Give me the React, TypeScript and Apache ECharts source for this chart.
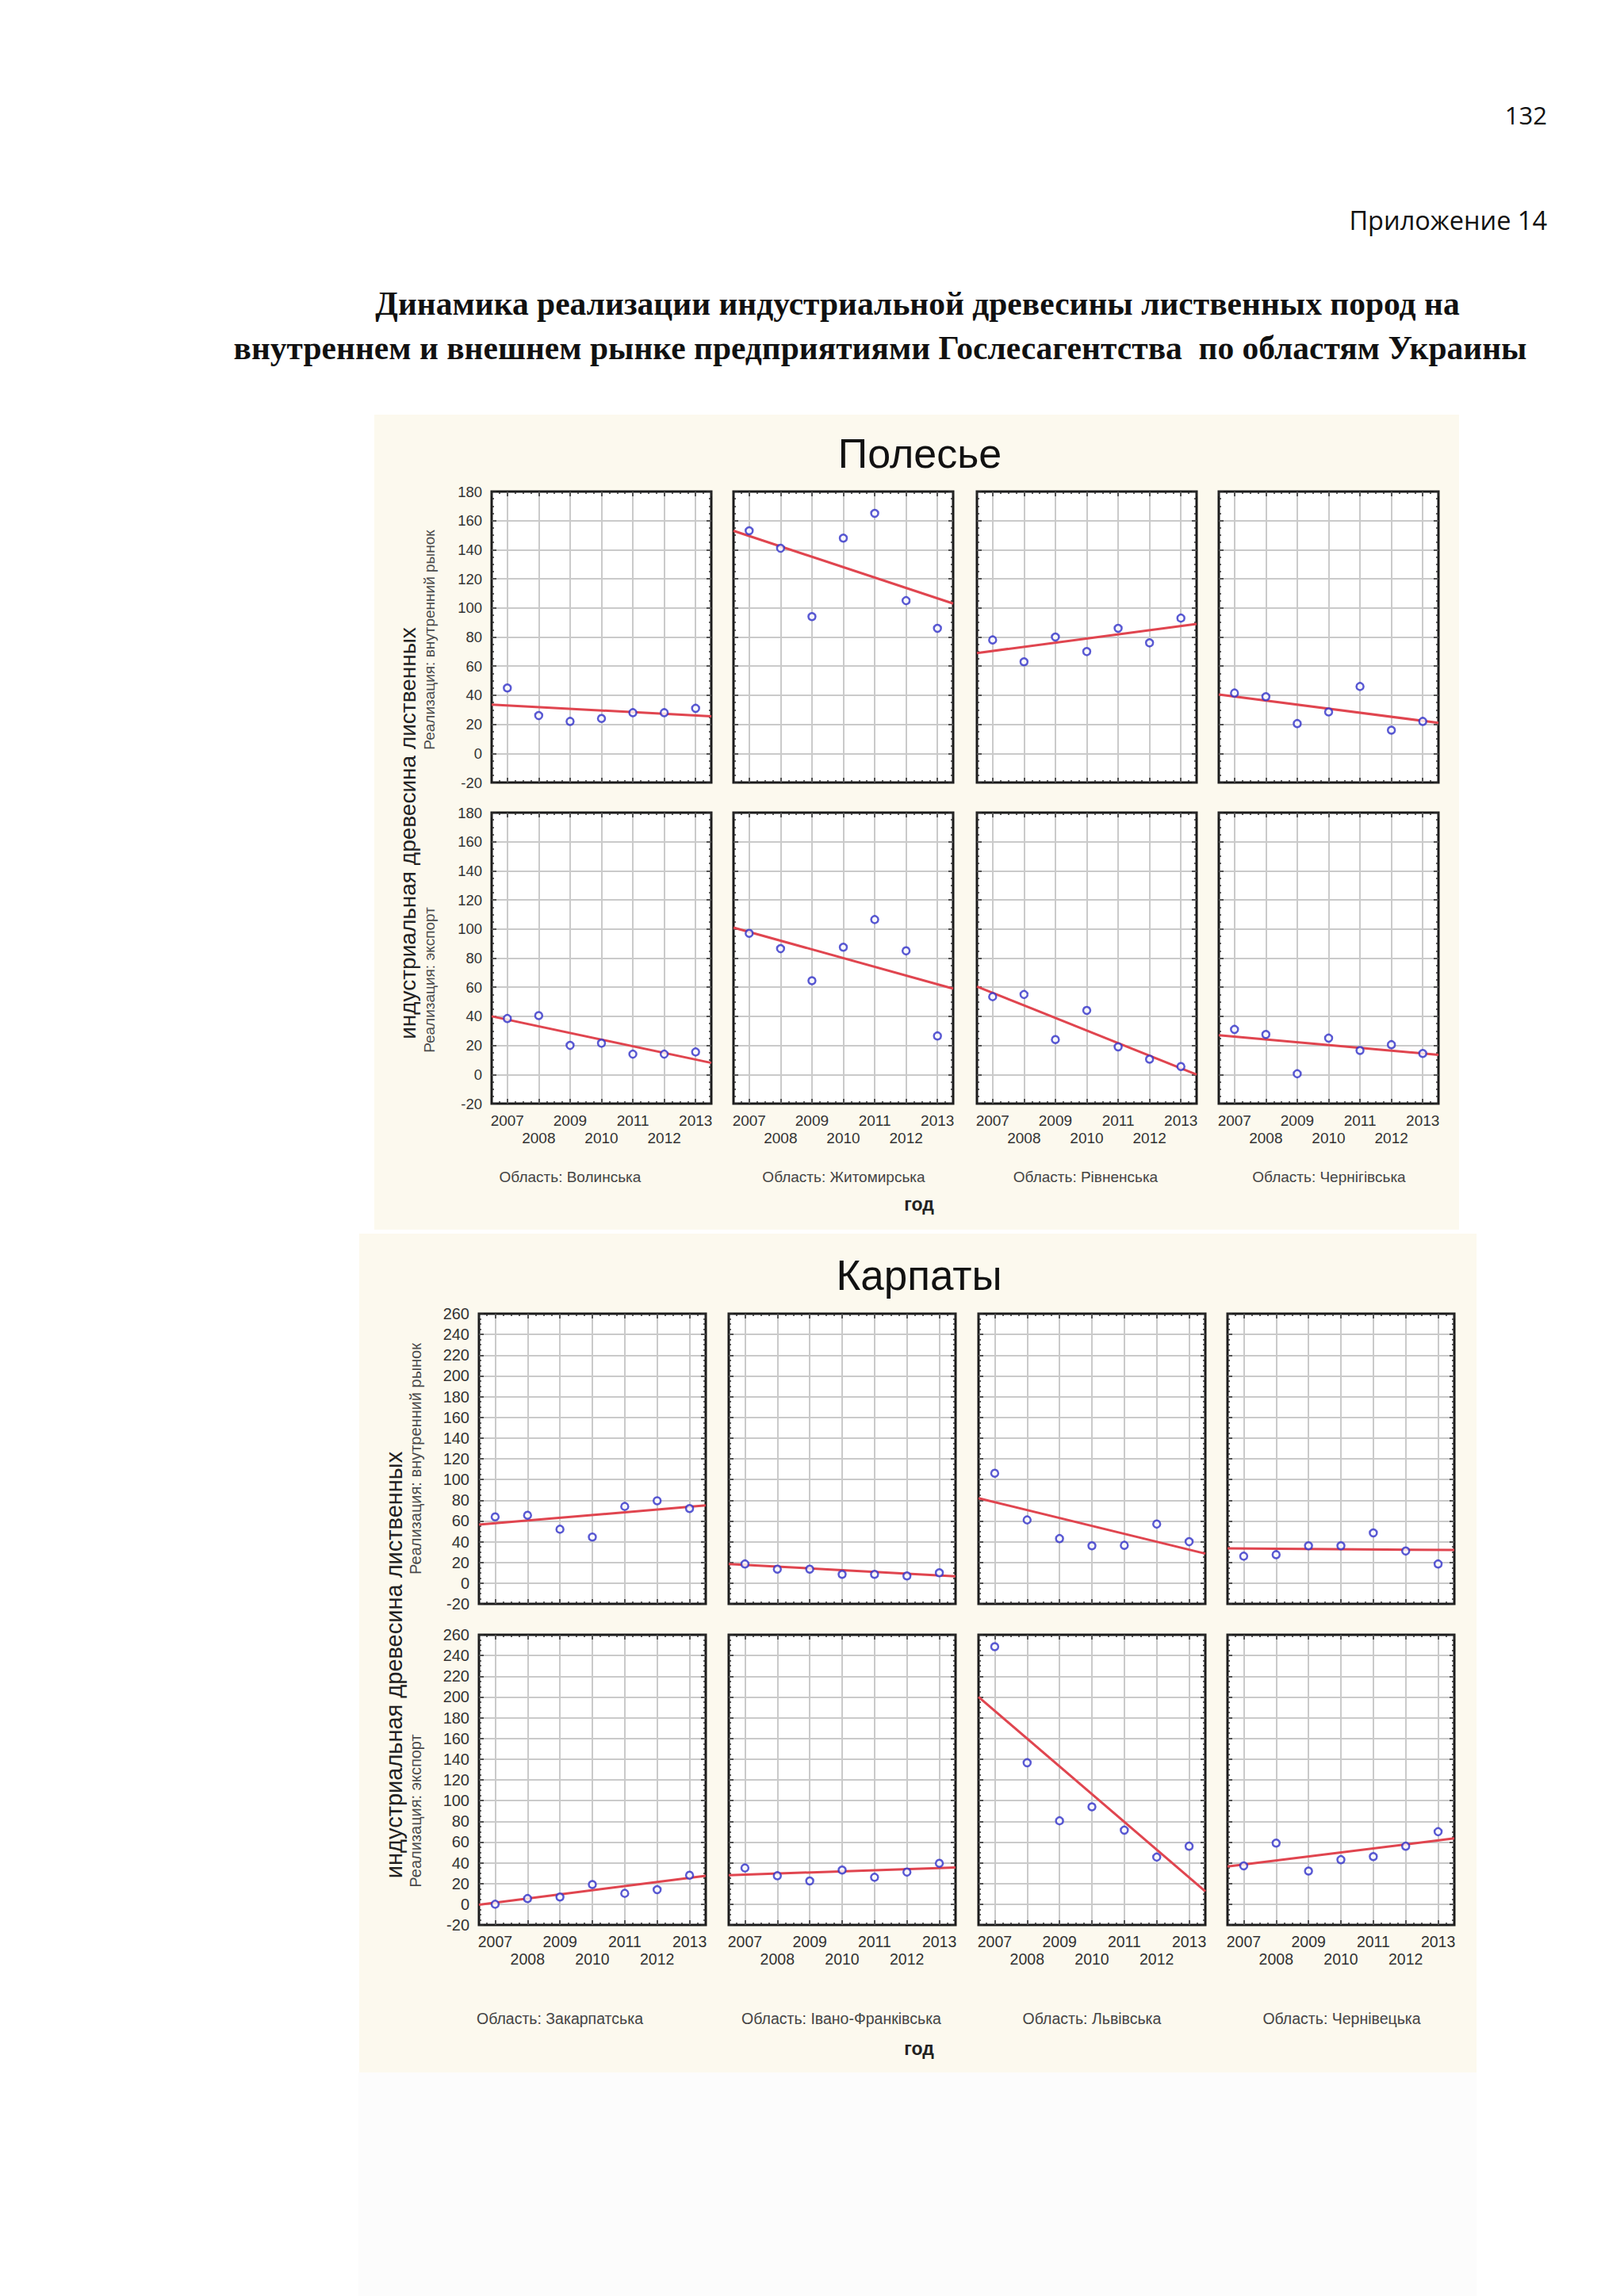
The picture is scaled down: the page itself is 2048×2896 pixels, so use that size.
import React, { useEffect, useRef } from 'react';
import * as echarts from 'echarts';

// ---------- DATA ----------
const years = [2007, 2008, 2009, 2010, 2011, 2012, 2013];
const trendX = [2006.5, 2013.5];

// Полесье
const polRegions = ['Волинська', 'Житомирська', 'Рівненська', 'Чернігівська'];
const polDomestic = [
  [45, 26, 22, 24, 28, 28, 31],
  [153, 141, 94, 148, 165, 105, 86],
  [78, 63, 80, 70, 86, 76, 93],
  [41.5, 39, 20.5, 28.5, 46, 16, 22],
];
const polDomesticTrend = [[33.5, 25.5], [153, 103], [69, 89], [40.5, 21]];
const polExport = [
  [38.5, 40.5, 20, 21.5, 14, 14, 15.5],
  [97, 86.5, 64.5, 87.5, 106.5, 85, 26.5],
  [53.5, 55, 24, 44, 19, 10.5, 5.5],
  [31, 27.5, 0.5, 25, 16.5, 20.5, 14.5],
];
const polExportTrend = [[40, 8], [101, 59], [60.5, 0], [27, 13.5]];

// Карпаты
const karRegions = ['Закарпатська', 'Івано-Франківська', 'Львівська', 'Чернівецька'];
const karDomestic = [
  [64, 65.5, 52, 44.5, 74, 79.5, 72],
  [18.5, 13.5, 13.5, 8.5, 8.5, 7, 10],
  [106, 61, 43, 36, 36.5, 57, 40],
  [26, 27.5, 36, 36, 48.5, 31, 18.5],
];
const karDomesticTrend = [[56.5, 75], [18.5, 6.5], [82, 28.5], [33.5, 32]];
const karExport = [
  [0, 5.5, 7, 19, 10.5, 14, 28],
  [35, 27.5, 22.5, 33, 26, 31, 39.5],
  [248.5, 136.5, 80.5, 94, 71.5, 45.5, 56],
  [37, 59, 32, 43, 46, 56, 70],
];
const karExportTrend = [[-0.5, 27.5], [28, 35.5], [200, 12.5], [36.5, 63.5]];

const yMin = -20;
const yStep = 20;
const polYMax = 180;
const karYMax = 260;

const pageNumber = '132';
const appendixLabel = 'Приложение 14';
const titleLine1 = 'Динамика реализации индустриальной древесины лиственных пород на';
const titleLine2 = 'внутреннем и внешнем рынке предприятиями Гослесагентства  по областям Украины';
const bigYLabel = 'индустриальная древесина лиственных';
const rowLabels = ['Реализация: внутренний рынок', 'Реализация: экспорт'];
const xName = 'год';

// ---------- LAYOUT / STYLE ----------
const SANS = '"Liberation Sans", Arial, sans-serif';
const panels = [
  {
    title: 'Полесье',
    regions: polRegions,
    rows: [
      { values: polDomestic, trend: polDomesticTrend },
      { values: polExport, trend: polExportTrend },
    ],
    yMax: polYMax,
    L: {
      bg: [472, 523, 1368, 1028],
      titleXY: [1160, 572], titleSize: 52,
      colLefts: [620, 925, 1232, 1537], colW: 277,
      rowTops: [620, 1025], rowH: 367,
      big: [514, 1051], bigSize: 28,
      rowLab: [541, [807, 1236]], rowLabSize: 19,
      regY: 1484, regX: [719, 1064, 1369, 1676], regSize: 19,
      god: [1159, 1519],
      tickSize: 18.5, yearSize: 19,
    },
  },
  {
    title: 'Карпаты',
    regions: karRegions,
    rows: [
      { values: karDomestic, trend: karDomesticTrend },
      { values: karExport, trend: karExportTrend },
    ],
    yMax: karYMax,
    L: {
      bg: [453, 1556, 1409, 1058],
      titleXY: [1159, 1608], titleSize: 53,
      colLefts: [604, 919, 1234, 1548], colW: 286,
      rowTops: [1657, 2062], rowH: 366,
      big: [497, 2100], bigSize: 29,
      rowLab: [524, [1840, 2284]], rowLabSize: 20,
      regY: 2546, regX: [706, 1061, 1377, 1692], regSize: 19.5,
      god: [1159, 2584],
      tickSize: 20, yearSize: 19.5,
    },
  },
];

const GRID_LINE = '#cacaca';
const FRAME = '#1a1a1a';
const TICK = { color: '#2a2a2a', width: 1.5 };
const NO_LINE = { show: false, onZero: false };

function text(x: number, y: number, t: string, o: any = {}) {
  return {
    type: 'text',
    x,
    y,
    rotation: o.rotation || 0,
    z: 10,
    silent: true,
    style: {
      text: t,
      fill: o.fill || '#222',
      fontSize: o.fontSize || 20,
      fontFamily: o.fontFamily || SANS,
      fontWeight: o.fontWeight || 'normal',
      textAlign: o.align || 'center',
      textVerticalAlign: 'middle',
    },
  };
}

function buildOption() {
  const grid: any[] = [];
  const xAxis: any[] = [];
  const yAxis: any[] = [];
  const series: any[] = [];
  const graphic: any[] = [];

  graphic.push({ type: 'rect', z: -10, silent: true, shape: { x: 452, y: 2614, width: 1410, height: 282 }, style: { fill: '#fcfcfc' } });

  const SERIF = '"Liberation Serif", "Times New Roman", serif';
  graphic.push(text(1951, 145, pageNumber, { align: 'right', fontSize: 31, fontFamily: '"Open Sans", sans-serif', fill: '#111' }));
  graphic.push(text(1951, 277, appendixLabel, { align: 'right', fontSize: 32.5, fontFamily: '"Open Sans", sans-serif', fill: '#111' }));
  graphic.push(text(1157, 383, titleLine1, { fontSize: 41.5, fontWeight: 'bold', fontFamily: SERIF, fill: '#111' }));
  graphic.push(text(1110, 439, titleLine2, { fontSize: 41.5, fontWeight: 'bold', fontFamily: SERIF, fill: '#111' }));

  panels.forEach((p) => {
    const L: any = p.L;
    graphic.push({ type: 'rect', z: -10, silent: true, shape: { x: L.bg[0], y: L.bg[1], width: L.bg[2], height: L.bg[3] }, style: { fill: '#fcf9ee' } });
    graphic.push(text(L.titleXY[0], L.titleXY[1], p.title, { fontSize: L.titleSize, fill: '#111' }));
    graphic.push(text(L.big[0], L.big[1], bigYLabel, { fontSize: L.bigSize, rotation: Math.PI / 2, fill: '#222' }));
    rowLabels.forEach((rl, r) => {
      graphic.push(text(L.rowLab[0], L.rowLab[1][r], rl, { fontSize: L.rowLabSize, rotation: Math.PI / 2, fill: '#4a4a4a' }));
    });
    p.regions.forEach((reg, c) => {
      graphic.push(text(L.regX[c], L.regY, 'Область: ' + reg, { fontSize: L.regSize, fill: '#444' }));
    });
    graphic.push(text(L.god[0], L.god[1], xName, { fontSize: 23, fontWeight: 'bold', fill: '#222' }));

    p.rows.forEach((row, r) => {
      p.regions.forEach((reg, c) => {
        const gi = grid.length;
        grid.push({
          left: L.colLefts[c], top: L.rowTops[r], width: L.colW, height: L.rowH,
          show: true, backgroundColor: '#ffffff', borderColor: FRAME, borderWidth: 3,
        });
        const xb = xAxis.length;
        xAxis.push({
          type: 'category', gridIndex: gi, position: 'bottom', data: years.map(String), boundaryGap: true,
          axisLine: NO_LINE,
          axisTick: { show: true, inside: true, alignWithLabel: true, interval: 0, length: 6, lineStyle: TICK },
          splitLine: { show: false },
          axisLabel: {
            show: r === 1, interval: 0, margin: 10, lineHeight: 22,
            fontSize: L.yearSize, fontFamily: SANS, color: '#333',
            formatter: (v: string) => (Number(v) % 2 === 0 ? '\n' + v : v),
          },
        });
        xAxis.push({
          type: 'value', gridIndex: gi, position: 'bottom', min: trendX[0], max: trendX[1],
          splitNumber: 7, minInterval: 1, maxInterval: 1,
          axisLine: NO_LINE, axisLabel: { show: false },
          axisTick: { show: false, inside: true },
          minorTick: { show: true, splitNumber: 4, length: 3, lineStyle: TICK },
          splitLine: { show: true, showMinLine: false, showMaxLine: false, lineStyle: { color: GRID_LINE, width: 2 } },
        });
        xAxis.push({
          type: 'value', gridIndex: gi, position: 'top', min: trendX[0], max: trendX[1],
          splitNumber: 7, minInterval: 1, maxInterval: 1,
          axisLine: NO_LINE, axisLabel: { show: false },
          axisTick: { show: true, inside: true, length: 6, lineStyle: TICK },
          minorTick: { show: true, splitNumber: 4, length: 3, lineStyle: TICK },
          splitLine: { show: false },
        });
        const yb = yAxis.length;
        yAxis.push({
          type: 'value', gridIndex: gi, position: 'left', min: yMin, max: p.yMax, interval: yStep,
          axisLine: NO_LINE,
          axisTick: { show: true, inside: true, length: 6, lineStyle: TICK },
          minorTick: { show: true, splitNumber: 4, length: 3, lineStyle: TICK },
          axisLabel: { show: c === 0, margin: 12, fontSize: L.tickSize, fontFamily: SANS, color: '#333' },
          splitLine: { show: true, showMinLine: false, showMaxLine: false, lineStyle: { color: GRID_LINE, width: 2 } },
        });
        yAxis.push({
          type: 'value', gridIndex: gi, position: 'right', min: yMin, max: p.yMax, interval: yStep,
          axisLine: NO_LINE,
          axisTick: { show: true, inside: true, length: 6, lineStyle: TICK },
          minorTick: { show: true, splitNumber: 4, length: 3, lineStyle: TICK },
          axisLabel: { show: false },
          splitLine: { show: false },
        });
        series.push({
          type: 'line', xAxisIndex: xb + 1, yAxisIndex: yb, silent: true, z: 3,
          symbol: 'none', showSymbol: false,
          lineStyle: { color: '#e0454f', width: 3 },
          data: trendX.map((x, i) => [x, row.trend[c][i]]),
        });
        series.push({
          type: 'scatter', xAxisIndex: xb + 1, yAxisIndex: yb, silent: true, z: 4,
          symbol: 'circle', symbolSize: 9,
          itemStyle: { color: '#ffffff', borderColor: '#3030c8', borderWidth: 2.5 },
          data: years.map((y, i) => [y, row.values[c][i]]),
        });
      });
    });
  });

  return { animation: false, backgroundColor: '#ffffff', grid, xAxis, yAxis, series, graphic };
}

export default function App() {
  const ref = useRef<HTMLDivElement>(null);
  useEffect(() => {
    document.body.style.margin = '0';
    const chart = echarts.init(ref.current as HTMLDivElement, null, { renderer: 'svg', width: 2048, height: 2896 });
    chart.setOption(buildOption() as any);
    return () => chart.dispose();
  }, []);
  return <div ref={ref} style={{ position: 'absolute', left: 0, top: 0, width: 2048, height: 2896 }} />;
}
